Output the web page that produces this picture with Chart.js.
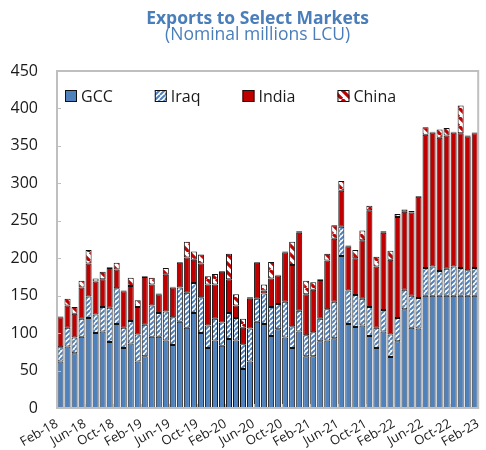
<!DOCTYPE html>
<html>
<head>
<meta charset="utf-8">
<script src="https://cdn.jsdelivr.net/npm/chart.js@4/dist/chart.umd.min.js"></script>
<style>
html,body{margin:0;padding:0;background:#fff;}
#wrap{width:486px;height:450px;position:relative;}
</style>
</head>
<body>
<div id="wrap"><canvas id="c"></canvas></div>
<script>
const months = ['Feb-18','Mar-18','Apr-18','May-18','Jun-18','Jul-18','Aug-18','Sep-18','Oct-18','Nov-18','Dec-18','Jan-19',
'Feb-19','Mar-19','Apr-19','May-19','Jun-19','Jul-19','Aug-19','Sep-19','Oct-19','Nov-19','Dec-19','Jan-20',
'Feb-20','Mar-20','Apr-20','May-20','Jun-20','Jul-20','Aug-20','Sep-20','Oct-20','Nov-20','Dec-20','Jan-21',
'Feb-21','Mar-21','Apr-21','May-21','Jun-21','Jul-21','Aug-21','Sep-21','Oct-21','Nov-21','Dec-21','Jan-22',
'Feb-22','Mar-22','Apr-22','May-22','Jun-22','Jul-22','Aug-22','Sep-22','Oct-22','Nov-22','Dec-22','Jan-23'];

const tickLabels = ['Feb-18','Jun-18','Oct-18','Feb-19','Jun-19','Oct-19','Feb-20','Jun-20','Oct-20','Feb-21','Jun-21','Oct-21','Feb-22','Jun-22','Oct-22','Feb-23'];

const gcc = [62,82,73,95,120,100,102,88,112,80,86,62,
69,95,95,90,84,115,107,127,100,80,90,83,
92,90,52,62,115,112,96,105,94,80,102,69,
69,89,90,93,203,112,108,110,96,80,102,68,
89,132,107,106,150,150,150,150,150,150,150,150];

const iraq = [19,25,21,24,29,25,33,46,48,27,30,36,
42,42,32,39,37,46,47,40,48,30,29,31,
35,30,33,44,31,41,39,34,48,29,28,28,
32,30,42,49,39,45,43,36,39,27,29,30,
31,26,43,41,37,39,33,36,39,37,34,37];

const india = [40,30,32,42,44,44,37,53,25,49,47,37,
64,28,25,49,40,33,47,31,45,55,46,68,
45,17,22,40,48,4,38,38,66,82,104,55,
57,52,65,84,48,59,49,78,129,82,103,100,
135,104,111,135,178,179,178,178,179,180,179,180];

const china = [1,9,9,9,18,4,10,1,9,1,11,9,
1,9,1,9,1,1,21,11,12,11,14,1,
34,15,12,2,1,8,22,1,1,31,2,18,
10,1,9,18,13,1,11,13,6,13,2,12,
4,3,2,1,10,1,11,10,1,37,1,1];

const titleText = 'Exports to Select Markets';
const subtitleText = '(Nominal millions LCU)';

function stripes(bg, fg, size, lw, dir) {
  const c = document.createElement('canvas');
  c.width = size; c.height = size;
  const x = c.getContext('2d');
  x.fillStyle = bg; x.fillRect(0, 0, size, size);
  x.strokeStyle = fg; x.lineWidth = lw;
  x.beginPath();
  for (let k = -1; k <= 1; k++) {
    if (dir === '/') { x.moveTo(k*size, size); x.lineTo(k*size + size, 0); }
    else { x.moveTo(k*size, 0); x.lineTo(k*size + size, size); }
  }
  x.stroke();
  return x.createPattern(c, 'repeat');
}

const ctx = document.getElementById('c').getContext('2d');
const iraqPat = stripes('#ffffff', '#4f81bd', 5, 2, '/');
const chinaPat = stripes('#ffffff', '#c00000', 9, 3.2, '\\');

const frame = {
  id: 'frame',
  afterDatasetsDraw(chart) {
    const {ctx, chartArea: a, scales} = chart;
    ctx.save();
    ctx.strokeStyle = '#bfbfbf';
    ctx.lineWidth = 1;
    scales.y.ticks.forEach(t => {
      const py = Math.round(scales.y.getPixelForValue(t.value)) + 0.5;
      ctx.beginPath(); ctx.moveTo(a.left, py); ctx.lineTo(a.left + 4, py); ctx.stroke();
    });
    scales.xt.ticks.forEach(t => {
      const px = Math.round(scales.xt.getPixelForValue(t.value)) + 0.5;
      ctx.beginPath(); ctx.moveTo(px, a.bottom); ctx.lineTo(px, a.bottom - 4); ctx.stroke();
    });
    ctx.lineWidth = 2;
    ctx.strokeRect(a.left, a.top, a.right - a.left, a.bottom - a.top);

    // titles
    const cx = (a.left + a.right) / 2 - 10;
    ctx.fillStyle = '#4a7ebb';
    ctx.textAlign = 'center';
    ctx.textBaseline = 'alphabetic';
    ctx.font = 'bold 17.5px "Open Sans"';
    ctx.fillText(titleText, cx, 24);
    ctx.font = '17.5px "Open Sans"';
    ctx.fillText(subtitleText, cx, 40);

    // legend inside plot area
    ctx.font = '16px "Open Sans"';
    ctx.textAlign = 'left';
    ctx.textBaseline = 'middle';
    let lx = a.left + 8;
    const ly = a.top + 25;
    chart.data.datasets.forEach(ds => {
      ctx.fillStyle = ds.backgroundColor;
      ctx.fillRect(lx, ly - 6, 12, 12);
      ctx.strokeStyle = '#111111';
      ctx.lineWidth = 1;
      ctx.strokeRect(lx + 0.5, ly - 5.5, 11, 11);
      ctx.fillStyle = '#1a1a1a';
      ctx.fillText(ds.label, lx + 16, ly + 1);
      lx += 16 + ctx.measureText(ds.label).width + 42;
    });
    ctx.restore();
  }
};

const common = {borderColor: '#111111', borderWidth: 1, barPercentage: 0.86, categoryPercentage: 1.0, borderSkipped: false};

new Chart(ctx, {
  type: 'bar',
  data: {
    labels: months,
    datasets: [
      Object.assign({label: 'GCC', data: gcc, backgroundColor: '#4f81bd'}, common),
      Object.assign({label: 'Iraq', data: iraq, backgroundColor: iraqPat}, common),
      Object.assign({label: 'India', data: india, backgroundColor: '#c00000'}, common),
      Object.assign({label: 'China', data: china, backgroundColor: chinaPat}, common)
    ]
  },
  options: {
    responsive: true,
    maintainAspectRatio: false,
    animation: false,
    layout: {padding: {left: 11, right: 5, top: 71, bottom: 0}},
    plugins: {
      title: {display: false},
      subtitle: {display: false},
      legend: {display: false},
      tooltip: {enabled: false}
    },
    scales: {
      x: {type: 'category', stacked: true, display: false, offset: true},
      xt: {type: 'linear', position: 'bottom', min: -0.5, max: 59.5, offset: false,
        afterBuildTicks: (s) => { s.ticks = tickLabels.map((_, i) => ({value: i * 4 - 0.5})); },
        grid: {display: false, offset: false},
        border: {display: true, color: '#bfbfbf', width: 2},
        ticks: {autoSkip: false, minRotation: 30, maxRotation: 30, padding: 0, color: '#1a1a1a',
          font: {family: 'Open Sans', size: 13},
          callback: (v, i) => tickLabels[i]}
      },
      y: {stacked: true, min: 0, max: 450,
        grid: {display: false},
        border: {display: true, color: '#bfbfbf', width: 2},
        afterFit: (s) => { s.width = 46; },
        ticks: {stepSize: 50, padding: 11, color: '#1a1a1a', font: {family: 'Open Sans', size: 16}}
      }
    }
  },
  plugins: [frame]
});
</script>
</body>
</html>
